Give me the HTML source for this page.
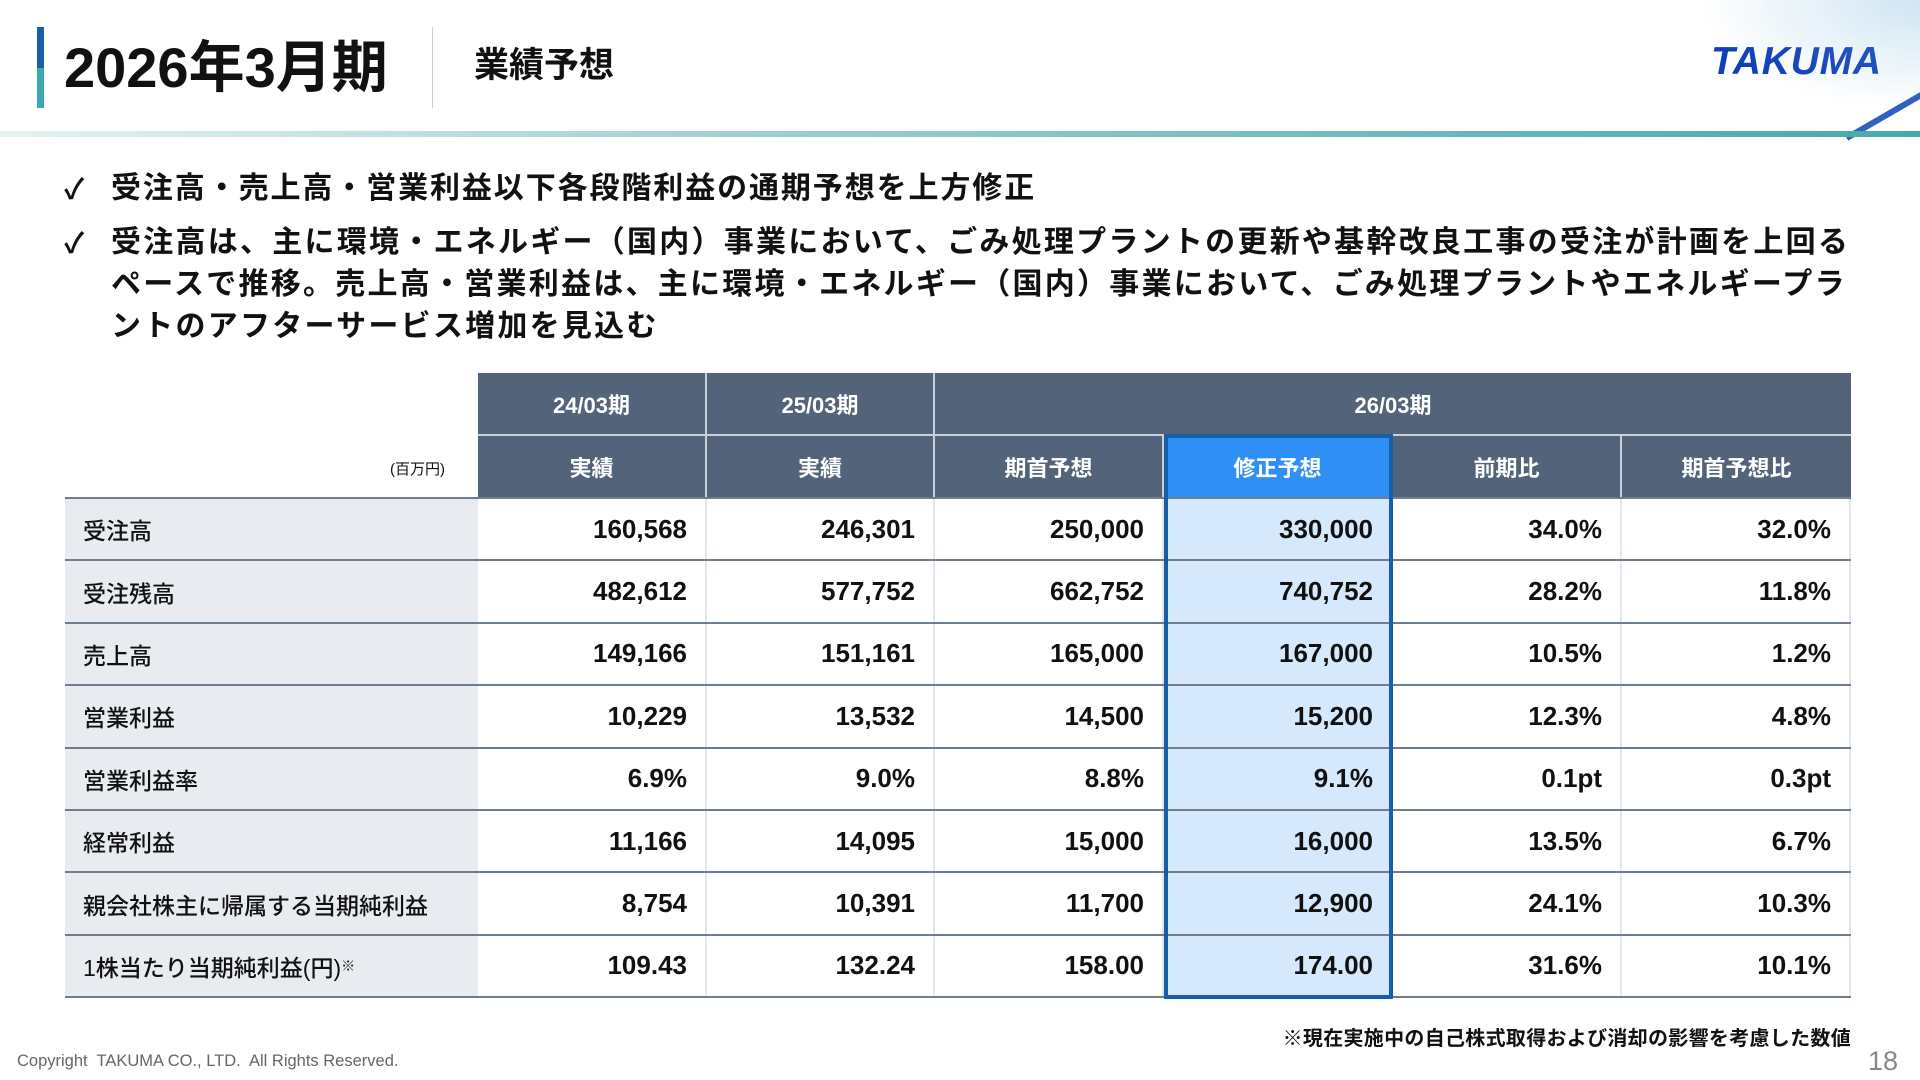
<!DOCTYPE html>
<html><head><meta charset="utf-8">
<style>
*{margin:0;padding:0;box-sizing:border-box}
body{width:1920px;height:1080px;background:#fff;position:relative;overflow:hidden;font-family:"Liberation Sans","Noto Sans CJK JP",sans-serif;color:#111}
.abs{position:absolute}
.hd{background:#52637a;color:#fff;font-weight:bold;font-size:22px;display:flex;align-items:center;justify-content:center;border-right:2px solid #c8d0da}
.num{font-weight:bold;font-size:26px;display:flex;align-items:center;justify-content:flex-end;padding-right:18px;border-right:2px solid #e4e8ec}
.lab{background:#e8ebf0;font-size:23px;font-weight:500;display:flex;align-items:center;padding-left:18px}
.line{position:absolute;left:65px;width:1786px;height:2px;background:#6e7e8e}
.bul{position:absolute;left:111px;font-size:30px;font-weight:bold;line-height:42px;letter-spacing:2.25px;white-space:nowrap}
.ck{position:absolute;left:64px;font-size:28px;font-weight:bold}
</style></head><body>
<div class="abs" style="left:37px;top:27px;width:7px;height:41px;background:#1a5fa8"></div>
<div class="abs" style="left:37px;top:68px;width:7px;height:40px;background:#3aa8b0"></div>
<div class="abs" style="left:64px;top:35px;font-size:56px;font-weight:bold;line-height:66px">2026年3月期</div>
<div class="abs" style="left:432px;top:27px;width:1px;height:81px;background:#ccd"></div>
<div class="abs" style="left:474px;top:45px;font-size:35px;font-weight:bold;line-height:42px">業績予想</div>
<div class="abs" style="left:1711px;top:40px;font-size:39px;font-weight:bold;font-style:italic;color:#1040b8;letter-spacing:0.8px">TAKUMA</div>
<div class="abs" style="left:1660px;top:0;width:260px;height:130px;background:radial-gradient(ellipse at 100% 0%,rgba(120,180,220,0.35),rgba(255,255,255,0) 60%)"></div>
<div class="abs" style="left:1840px;top:110px;width:100px;height:6px;background:#3060c0;transform:rotate(-30deg)"></div>
<div class="abs" style="left:0;top:131px;width:1920px;height:6px;background:linear-gradient(90deg,#e6f2f2,#9ccfd0 40%,#4aa8aa)"></div>

<div class="ck" style="top:168px">✓</div>
<div class="bul" style="top:168px;letter-spacing:1.9px">受注高・売上高・営業利益以下各段階利益の通期予想を上方修正</div>
<div class="ck" style="top:222px">✓</div>
<div class="bul" style="top:222px">受注高は、主に環境・エネルギー（国内）事業において、ごみ処理プラントの更新や基幹改良工事の受注が計画を上回る<br>ペースで推移。売上高・営業利益は、主に環境・エネルギー（国内）事業において、ごみ処理プラントやエネルギープラ<br>ントのアフターサービス増加を見込む</div>

<div class="abs hd" style="left:478px;top:373px;width:229px;height:62px">24/03期</div>
<div class="abs hd" style="left:707px;top:373px;width:228px;height:62px">25/03期</div>
<div class="abs hd" style="left:935px;top:373px;width:916px;height:62px;border-right:none">26/03期</div>
<div class="abs" style="left:478px;top:434px;width:1373px;height:2px;background:#c8d0da"></div>
<div class="abs" style="left:390px;top:458px;font-size:15px">(百万円)</div>
<div class="abs hd" style="left:478px;top:436px;width:229px;height:61px">実績</div>
<div class="abs hd" style="left:707px;top:436px;width:228px;height:61px">実績</div>
<div class="abs hd" style="left:935px;top:436px;width:229px;height:61px">期首予想</div>
<div class="abs hd" style="left:1164px;top:436px;width:229px;height:61px;background:#2f8ff5">修正予想</div>
<div class="abs hd" style="left:1393px;top:436px;width:229px;height:61px">前期比</div>
<div class="abs hd" style="left:1622px;top:436px;width:229px;height:61px;border-right:none">期首予想比</div>
<div class="line" style="top:497px"></div>
<div id="rows"></div>
<script>
var d=[["受注高","160,568","246,301","250,000","330,000","34.0%","32.0%"],
["受注残高","482,612","577,752","662,752","740,752","28.2%","11.8%"],
["売上高","149,166","151,161","165,000","167,000","10.5%","1.2%"],
["営業利益","10,229","13,532","14,500","15,200","12.3%","4.8%"],
["営業利益率","6.9%","9.0%","8.8%","9.1%","0.1pt","0.3pt"],
["経常利益","11,166","14,095","15,000","16,000","13.5%","6.7%"],
["親会社株主に帰属する当期純利益","8,754","10,391","11,700","12,900","24.1%","10.3%"],
["1株当たり当期純利益(円)<sup style='font-size:14px'>※</sup>","109.43","132.24","158.00","174.00","31.6%","10.1%"]];
var xs=[65,478,707,935,1164,1393,1622,1851],h='';
for(var i=0;i<8;i++){var t=499+i*62.4;
h+='<div class="abs lab" style="left:65px;top:'+t+'px;width:413px;height:60.4px">'+d[i][0]+'</div>';
for(var j=1;j<7;j++){var bg=j==4?'background:#d6e8fb;':'';
h+='<div class="abs num" style="'+bg+'left:'+xs[j]+'px;top:'+t+'px;width:'+(xs[j+1]-xs[j])+'px;height:60.4px">'+d[i][j]+'</div>';}
h+='<div class="line" style="top:'+(t+60.4)+'px"></div>';}
document.getElementById('rows').innerHTML=h;
</script>
<div class="abs" style="left:1164px;top:434px;width:229px;height:565px;border:4px solid #1660a8"></div>
<div class="abs" style="right:69px;top:1022px;font-size:20px;font-weight:bold;white-space:nowrap;letter-spacing:0.3px">※現在実施中の自己株式取得および消却の影響を考慮した数値</div>
<div class="abs" style="left:17px;top:1052px;font-size:16.5px;color:#666">Copyright&nbsp; TAKUMA CO., LTD.&nbsp; All Rights Reserved.</div>
<div class="abs" style="left:1868px;top:1046px;font-size:27px;color:#888">18</div>
</body></html>
